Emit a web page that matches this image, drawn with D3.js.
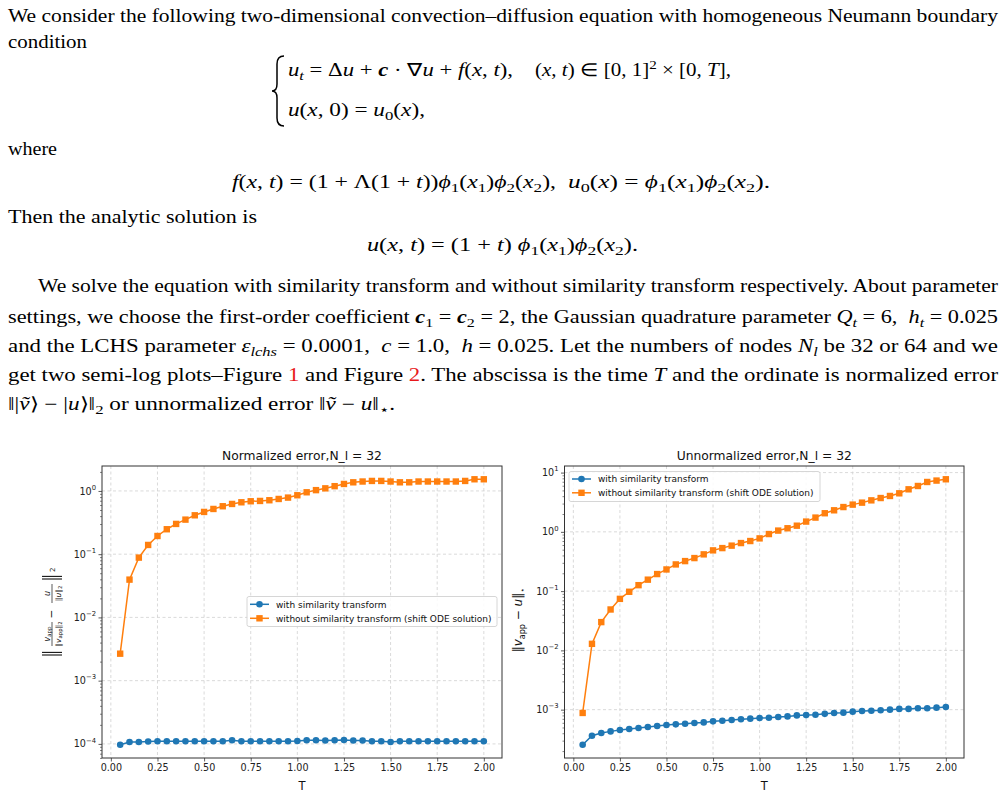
<!DOCTYPE html>
<html><head><meta charset="utf-8">
<script src="https://cdn.jsdelivr.net/npm/d3@7"></script>
<style>html,body{margin:0;padding:0;background:#fff;} svg{display:block;} text{white-space:pre;}</style>
</head><body>
<svg id="c" width="1005" height="796"></svg>
<script>
// ---------------- data ----------------
const T = [0.05,0.10,0.15,0.20,0.25,0.30,0.35,0.40,0.45,0.50,0.55,0.60,0.65,0.70,0.75,0.80,0.85,0.90,0.95,1.00,
           1.05,1.10,1.15,1.20,1.25,1.30,1.35,1.40,1.45,1.50,1.55,1.60,1.65,1.70,1.75,1.80,1.85,1.90,1.95,2.00];
const normWith = [0.97e-4,1.07e-4,1.07e-4,1.09e-4,1.10e-4,1.10e-4,1.10e-4,1.10e-4,1.10e-4,1.10e-4,1.10e-4,1.10e-4,1.14e-4,1.10e-4,1.10e-4,1.10e-4,1.10e-4,1.10e-4,1.10e-4,1.11e-4,
                  1.14e-4,1.14e-4,1.13e-4,1.14e-4,1.15e-4,1.13e-4,1.13e-4,1.10e-4,1.10e-4,1.07e-4,1.10e-4,1.10e-4,1.10e-4,1.10e-4,1.10e-4,1.10e-4,1.10e-4,1.10e-4,1.10e-4,1.10e-4];
const normWithout = [0.00267,0.0396,0.0883,0.140,0.194,0.248,0.301,0.352,0.412,0.466,0.519,0.573,0.623,0.662,0.687,0.695,0.713,0.747,0.785,0.855,
                     0.953,1.03,1.10,1.19,1.29,1.37,1.41,1.44,1.44,1.41,1.37,1.37,1.41,1.41,1.41,1.41,1.41,1.44,1.53,1.53];
const unnormWith = [2.56e-4,3.63e-4,4.03e-4,4.30e-4,4.54e-4,4.72e-4,4.90e-4,5.10e-4,5.30e-4,5.50e-4,5.65e-4,5.80e-4,5.96e-4,6.10e-4,6.35e-4,6.50e-4,6.70e-4,6.87e-4,7.05e-4,7.24e-4,
                    7.30e-4,7.50e-4,7.70e-4,8.00e-4,8.10e-4,8.20e-4,8.50e-4,8.80e-4,8.90e-4,9.25e-4,9.50e-4,9.60e-4,9.75e-4,1.00e-3,1.03e-3,1.03e-3,1.055e-3,1.055e-3,1.08e-3,1.11e-3];
const unnormWithout = [8.8e-4,0.0129,0.030,0.049,0.074,0.0975,0.126,0.156,0.194,0.232,0.282,0.321,0.361,0.417,0.487,0.532,0.585,0.647,0.700,0.776,
                       0.918,1.05,1.15,1.27,1.49,1.74,2.06,2.31,2.62,2.88,3.11,3.40,3.72,4.03,4.47,5.22,5.94,6.94,7.33,7.71];
const xTickValues = [0.00,0.25,0.50,0.75,1.00,1.25,1.50,1.75,2.00];
const seriesNames = ["with similarity transform","without similarity transform (shift ODE solution)"];
const titles = ["Normalized error,N_l = 32","Unnormalized error,N_l = 32"];
const xLabel = "T";

// ---------------- setup ----------------
const svg = d3.select("#c");
const serif = "'Liberation Serif','Times New Roman',serif";
const sans = "'DejaVu Sans','Liberation Sans',sans-serif";
const BLUE = "#1f77b4", ORANGE = "#ff7f0e";

function mathLine(x, y, w, segs, size) {
  size = size || 18;
  const t = svg.append("text").attr("x", x).attr("y", y)
    .attr("font-family", serif).attr("font-size", size).attr("fill", "#000");
  if (w) t.attr("textLength", w).attr("lengthAdjust", "spacingAndGlyphs");
  let cur = 0;
  segs.forEach(seg => {
    const s = Array.isArray(seg) ? seg[0] : seg;
    const st = Array.isArray(seg) ? seg[1] : "";
    const sp = t.append("tspan").text(s);
    let target = 0;
    if (st.includes("s")) { target = size * 0.24; sp.attr("font-size", size * 0.72); }
    if (st.includes("p")) { target = -size * 0.38; sp.attr("font-size", size * 0.72); }
    if (target !== cur) { sp.attr("dy", target - cur); cur = target; }
    if (st.includes("i")) sp.attr("font-style", "italic");
    if (st.includes("b")) sp.attr("font-style", "italic").attr("font-weight", "bold");
    if (st.includes("r")) sp.attr("fill", "#e8191c");
  });
  return t;
}

// ---------------- text ----------------
mathLine(8, 22, 990, ["We consider the following two-dimensional convection–diffusion equation with homogeneous Neumann boundary"]);
mathLine(8, 48, 79, ["condition"]);
svg.append("path").attr("d", "M284,56 Q277,56 277,64 L277,84 Q277,91 272,91 Q277,91 277,98 L277,118 Q277,126 284,126")
  .attr("fill", "none").attr("stroke", "#000").attr("stroke-width", 1.5);
mathLine(288, 76, 225, [["u","i"],["t","si"]," = Δ",["u","i"]," + ",["c","b"]," · ∇",["u","i"]," + ",["f","i"],"(",["x","i"],", ",["t","i"],"),"]);
mathLine(535, 76, 196, ["(",["x","i"],", ",["t","i"],") ∈ [0, 1]",["2","p"]," × [0, ",["T","i"],"],"]);
mathLine(288, 116, 137, [["u","i"],"(",["x","i"],", 0) = ",["u","i"],["0","s"],"(",["x","i"],"),"]);
mathLine(8, 155, 49, ["where"]);
mathLine(232, 188, 324, [["f","i"],"(",["x","i"],", ",["t","i"],") = (1 + Λ(1 + ",["t","i"],"))",["ϕ","i"],["1","s"],"(",["x","i"],["1","s"],")",["ϕ","i"],["2","s"],"(",["x","i"],["2","s"],"),"]);
mathLine(568, 188, 202, [["u","i"],["0","s"],"(",["x","i"],") = ",["ϕ","i"],["1","s"],"(",["x","i"],["1","s"],")",["ϕ","i"],["2","s"],"(",["x","i"],["2","s"],")."]);
mathLine(8, 223, 249, ["Then the analytic solution is"]);
mathLine(367, 251, 271, [["u","i"],"(",["x","i"],", ",["t","i"],") = (1 + ",["t","i"],") ",["ϕ","i"],["1","s"],"(",["x","i"],["1","s"],")",["ϕ","i"],["2","s"],"(",["x","i"],["2","s"],")."]);
mathLine(38, 292, 960, ["We solve the equation with similarity transform and without similarity transform respectively. About parameter"]);
mathLine(8, 323, 990, ["settings, we choose the first-order coefficient ",["c","b"],["1","s"]," = ",["c","b"],["2","s"]," = 2, the Gaussian quadrature parameter ",["Q","i"],["t","si"]," = 6,  ",["h","i"],["t","si"]," = 0.025"]);
mathLine(8, 352, 990, ["and the LCHS parameter ",["ε","i"],["lchs","si"]," = 0.0001,  ",["c","i"]," = 1.0,  ",["h","i"]," = 0.025. Let the numbers of nodes ",["N","i"],["l","si"]," be 32 or 64 and we"]);
mathLine(8, 381, 990, ["get two semi-log plots–Figure ",["1","r"]," and Figure ",["2","r"],". The abscissa is the time ",["T","i"]," and the ordinate is normalized error"]);
mathLine(8, 410, 387, ["‖|",["ṽ","i"],"⟩ − |",["u","i"],"⟩‖",["2","s"]," or unnormalized error ‖",["ṽ","i"]," − ",["u","i"],"‖",["⋆","s"],"."]);

// ---------------- charts ----------------
const TICK_FS = 9.6;
function drawChart(o) {
  const g = svg.append("g");
  const xmin = d3.min(T), xmax = d3.max(T), xm = 0.05 * (xmax - xmin);
  const x = d3.scaleLinear().domain([xmin - xm, xmax + xm]).range([o.left, o.right]);
  const all = o.series[0].concat(o.series[1]);
  const lo = Math.log10(d3.min(all)), hi = Math.log10(d3.max(all)), m = 0.05 * (hi - lo);
  const y = d3.scaleLog().domain([10 ** (lo - m), 10 ** (hi + m)]).range([o.bottom, o.top]);
  const [d0, d1] = y.domain();
  const majors = [], minors = [];
  for (let e = Math.floor(Math.log10(d0)); e <= Math.ceil(Math.log10(d1)); e++) {
    const v = 10 ** e;
    if (v >= d0 && v <= d1) majors.push(e);
    for (let k = 2; k <= 9; k++) { const mv = k * v; if (mv >= d0 && mv <= d1) minors.push(mv); }
  }
  // grid
  const grid = g.append("g").attr("stroke", "#d0d0d0").attr("stroke-width", 0.8).attr("stroke-dasharray", "3,2.5");
  xTickValues.forEach(v => grid.append("line").attr("x1", x(v)).attr("x2", x(v)).attr("y1", o.top).attr("y2", o.bottom));
  majors.forEach(e => grid.append("line").attr("x1", o.left).attr("x2", o.right).attr("y1", y(10 ** e)).attr("y2", y(10 ** e)));

  // x axis
  const xa = g.append("g").attr("transform", `translate(0,${o.bottom})`)
    .call(d3.axisBottom(x).tickValues(xTickValues).tickFormat(d3.format(".2f")).tickSize(3.5).tickPadding(2.5));
  xa.select(".domain").remove();
  xa.selectAll("line").attr("stroke", "#333").attr("stroke-width", 0.8);
  xa.selectAll("text").attr("font-family", sans).attr("font-size", TICK_FS).attr("fill", "#222");
  // y axis major / minor ticks
  const ya = g.append("g").attr("transform", `translate(${o.left},0)`)
    .call(d3.axisLeft(y).tickValues(majors.map(e => 10 ** e)).tickFormat("").tickSize(3.5));
  ya.select(".domain").remove();
  ya.selectAll("line").attr("stroke", "#333").attr("stroke-width", 0.8);
  const ym = g.append("g").attr("transform", `translate(${o.left},0)`)
    .call(d3.axisLeft(y).tickValues(minors).tickFormat("").tickSize(2));
  ym.select(".domain").remove();
  ym.selectAll("line").attr("stroke", "#333").attr("stroke-width", 0.6);
  majors.forEach(e => {
    const t = g.append("text").attr("x", o.left - 6).attr("y", y(10 ** e) + 3.6)
      .attr("text-anchor", "end").attr("font-family", sans).attr("font-size", TICK_FS).attr("fill", "#222");
    t.append("tspan").text("10");
    t.append("tspan").attr("dy", -4.8).attr("font-size", 6.8).text(String(e).replace("-", "−"));
  });

  // series
  const line = d3.line().x((d, i) => x(T[i])).y(d => y(d));
  const [sw, so] = o.series;
  g.append("path").attr("d", line(sw)).attr("fill", "none").attr("stroke", BLUE).attr("stroke-width", 1.5);
  g.selectAll(null).data(sw).join("circle").attr("cx", (d, i) => x(T[i])).attr("cy", d => y(d)).attr("r", 3.3).attr("fill", BLUE);
  g.append("path").attr("d", line(so)).attr("fill", "none").attr("stroke", ORANGE).attr("stroke-width", 1.5);
  g.selectAll(null).data(so).join("rect").attr("x", (d, i) => x(T[i]) - 3.2).attr("y", d => y(d) - 3.2)
    .attr("width", 6.4).attr("height", 6.4).attr("fill", ORANGE);

  // frame
  g.append("rect").attr("x", o.left).attr("y", o.top).attr("width", o.right - o.left).attr("height", o.bottom - o.top)
    .attr("fill", "none").attr("stroke", "#333").attr("stroke-width", 1);

  // title, x label
  g.append("text").attr("x", (o.left + o.right) / 2).attr("y", 459.5).attr("text-anchor", "middle")
    .attr("font-family", sans).attr("font-size", 12.3).attr("fill", "#111").text(o.title);
  g.append("text").attr("x", (o.left + o.right) / 2).attr("y", 789.5).attr("text-anchor", "middle")
    .attr("font-family", sans).attr("font-size", 11.5).attr("fill", "#111").text(xLabel);

  // legend
  const L = o.legend;
  g.append("rect").attr("x", L.x).attr("y", L.y).attr("width", L.w).attr("height", L.h).attr("rx", 2)
    .attr("fill", "#fff").attr("fill-opacity", 0.85).attr("stroke", "#cccccc").attr("stroke-width", 0.8);
  [BLUE, ORANGE].forEach((c, i) => {
    const ry = L.rows[i], lx0 = L.x + 3, lx1 = L.x + 22, cx = (lx0 + lx1) / 2;
    g.append("line").attr("x1", lx0).attr("x2", lx1).attr("y1", ry).attr("y2", ry).attr("stroke", c).attr("stroke-width", 1.5);
    if (i === 0) g.append("circle").attr("cx", cx).attr("cy", ry).attr("r", 3.3).attr("fill", c);
    else g.append("rect").attr("x", cx - 3.2).attr("y", ry - 3.2).attr("width", 6.4).attr("height", 6.4).attr("fill", c);
    g.append("text").attr("x", L.x + 29).attr("y", ry + 3.2).attr("font-family", sans).attr("font-size", 9)
      .attr("fill", "#111").text(seriesNames[i]);
  });
  return g;
}

drawChart({left: 102, right: 502, top: 466, bottom: 758, title: titles[0],
  series: [normWith, normWithout], legend: {x: 247, y: 596.5, w: 250, h: 30, rows: [604.3, 618.3]}});
drawChart({left: 564.5, right: 964, top: 466, bottom: 758, title: titles[1],
  series: [unnormWith, unnormWithout], legend: {x: 569, y: 471.5, w: 251, h: 30, rows: [479, 492.8]}});

// left y label: || v_app/||v_app||_2 - u/||u||_2 ||_2
(function () {
  const g = svg.append("g").attr("transform", "translate(52,611) rotate(-90)").attr("fill", "#111").attr("font-family", sans);
  const bar2 = (lx) => { [lx, lx + 2.6].forEach(a => g.append("line").attr("x1", a).attr("x2", a).attr("y1", -10).attr("y2", 10).attr("stroke", "#111").attr("stroke-width", 1.1)); };
  bar2(-44);
  g.append("line").attr("x1", -35).attr("x2", -11).attr("y1", 0).attr("y2", 0).attr("stroke", "#111").attr("stroke-width", 0.7);
  let t = g.append("text").attr("x", -23).attr("y", -2.5).attr("text-anchor", "middle").attr("font-size", 8);
  t.append("tspan").attr("font-style", "italic").text("v"); t.append("tspan").attr("font-size", 5.5).attr("dy", 1.5).text("app");
  t = g.append("text").attr("x", -23).attr("y", 8.5).attr("text-anchor", "middle").attr("font-size", 7.5);
  t.append("tspan").text("‖"); t.append("tspan").attr("font-style", "italic").text("v");
  t.append("tspan").attr("font-size", 5.3).attr("dy", 1.5).text("app"); t.append("tspan").attr("dy", -1.5).text("‖");
  t.append("tspan").attr("font-size", 5.3).attr("dy", 1.5).text("2");
  g.append("text").attr("x", -3).attr("y", 3).attr("text-anchor", "middle").attr("font-size", 10.5).text("−");
  g.append("line").attr("x1", 8).attr("x2", 27).attr("y1", 0).attr("y2", 0).attr("stroke", "#111").attr("stroke-width", 0.7);
  g.append("text").attr("x", 17.5).attr("y", -2.5).attr("text-anchor", "middle").attr("font-size", 8).attr("font-style", "italic").text("u");
  t = g.append("text").attr("x", 17.5).attr("y", 8.5).attr("text-anchor", "middle").attr("font-size", 7.5);
  t.append("tspan").text("‖"); t.append("tspan").attr("font-style", "italic").text("u"); t.append("tspan").text("‖");
  t.append("tspan").attr("font-size", 5.3).attr("dy", 1.5).text("2");
  bar2(32);
  g.append("text").attr("x", 39).attr("y", 3).attr("font-size", 7).text("2");
})();

// right y label: ||v_app - u||_*
(function () {
  const t = svg.append("text").attr("transform", "translate(522,620) rotate(-90)").attr("text-anchor", "middle")
    .attr("font-family", sans).attr("font-size", 12).attr("fill", "#111");
  t.append("tspan").text("‖");
  t.append("tspan").attr("font-style", "italic").text("v");
  t.append("tspan").attr("font-size", 8).attr("dy", 2.5).text("app");
  t.append("tspan").attr("dy", -2.5).text(" − ");
  t.append("tspan").attr("font-style", "italic").text("u");
  t.append("tspan").text("‖");
  t.append("tspan").attr("font-size", 8).attr("dy", 3).text("⋆");
})();
</script>
</body></html>
